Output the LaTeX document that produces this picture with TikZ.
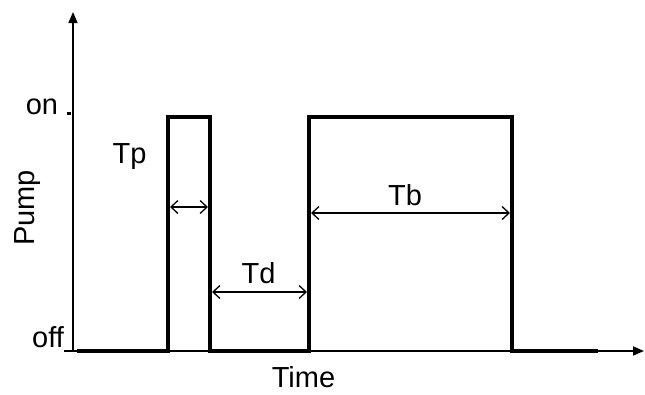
\documentclass[tikz,border=0pt]{standalone}
\usepackage{fontspec}
\setmainfont{Liberation Sans}
\usetikzlibrary{arrows.meta}
\begin{document}
\begin{tikzpicture}[x=1pt,y=-1pt,
  axis/.style={line width=1.6pt,-{Triangle[length=11pt,width=9pt]}},
  wave/.style={line width=3.6pt,line join=miter,line cap=butt},
  dim/.style={line width=1.3pt,{Straight Barb[length=7pt,width=13pt]}-{Straight Barb[length=7pt,width=13pt]}},
  lbl/.style={font=\fontsize{29}{31}\selectfont,inner sep=0pt}]
\useasboundingbox (0,0) rectangle (645,394);
% axes
\coordinate (O) at (73,351);
\coordinate (ytop) at (73,12);
\coordinate (xend) at (644,351);
\draw[axis] (O) -- (ytop);
\draw[axis] (O) -- (xend);
% ticks
\coordinate (onA) at (67,113); \coordinate (onB) at (71,113);
\draw[line width=3pt] (onA) -- (onB);
\coordinate (offA) at (64,351); \coordinate (offB) at (73,351);
\draw[line width=1.6pt] (offA) -- (offB);
% waveform
\coordinate (w0) at (77,351);
\coordinate (w1) at (168,351);
\coordinate (w2) at (168,117);
\coordinate (w3) at (210,117);
\coordinate (w4) at (210,351);
\coordinate (w5) at (309,351);
\coordinate (w6) at (309,117);
\coordinate (w7) at (512,117);
\coordinate (w8) at (512,351);
\coordinate (w9) at (598,351);
\draw[wave] (w0) -- (w1) -- (w2) -- (w3) -- (w4) -- (w5) -- (w6) -- (w7) -- (w8) -- (w9);
% dimension arrows
\coordinate (tpL) at (170,207); \coordinate (tpR) at (208,207);
\draw[dim] (tpL) -- (tpR);
\coordinate (tdL) at (212,292); \coordinate (tdR) at (307,292);
\draw[dim] (tdL) -- (tdR);
\coordinate (tbL) at (311,213); \coordinate (tbR) at (510,213);
\draw[dim] (tbL) -- (tbR);
% labels
\node[lbl] (on) at (42,107) {on};
\node[lbl,anchor=base] (off) at (48,347) {off};
\node[lbl,anchor=base] (tp) at (129.5,163) {Tp};
\node[lbl,anchor=base] (td) at (258.5,283) {Td};
\node[lbl,anchor=base] (tb) at (405,205) {Tb};
\node[lbl,rotate=90] (pump) at (28,208) {Pump};
\node[lbl,anchor=base] (time) at (303.5,387) {Time};
\end{tikzpicture}
\end{document}
